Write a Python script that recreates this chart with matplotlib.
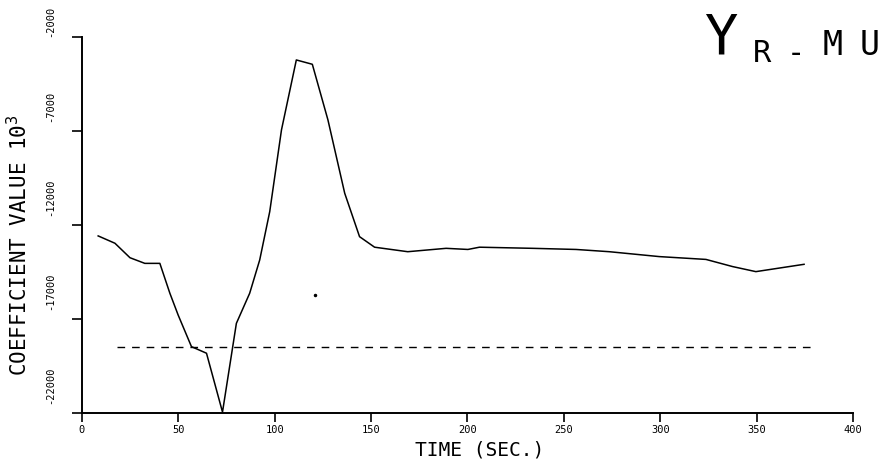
import matplotlib
matplotlib.use("Agg")
import matplotlib.pyplot as plt
from matplotlib.transforms import ScaledTranslation

# Zeitachse (Sekunden) und Koeffizientenverlauf Y_R-MU
zeit = [8.4, 17.1, 24.9, 32.6, 40.4, 45.6, 49.9, 56.8, 64.6, 72.9, 80.1, 87.0,
        92.2, 97.4, 103.5, 111.2, 119.5, 127.6, 136.3, 144.0, 151.8, 169.0,
        188.9, 200.2, 206.2, 233.8, 256.3, 273.6, 299.5, 323.7, 337.5, 349.6, 374.6]
koeffizient = [-12580, -12970, -13740, -14040, -14040, -15630, -16790, -18470,
               -18820, -21950, -17230, -15630, -13860, -11290, -6940, -3220,
               -3450, -6410, -10310, -12620, -13180, -13420, -13240, -13300,
               -13180, -13240, -13300, -13420, -13680, -13830, -14210, -14480, -14090]

# gestrichelte Referenzlinie
ref_zeit = [18, 379]
ref_wert = [-18500, -18500]

# einzelner Punkt im Plot
punkt_zeit = [120.7]
punkt_wert = [-15720]

x_ticks = [0, 50, 100, 150, 200, 250, 300, 350, 400]
y_ticks = [-22000, -17000, -12000, -7000, -2000]

schrift = "DejaVu Sans Mono"
plt.rcParams['font.family'] = schrift

fig = plt.figure(figsize=(8.92, 4.61), dpi=100)
ax = fig.add_axes([0.0919, 0.1041, 0.8644, 0.8156])

ax.plot(zeit, koeffizient, color='black', linewidth=1.1)
ax.plot(ref_zeit, ref_wert, color='black', linewidth=1.0, linestyle=(0, (5.5, 5)))
ax.plot(punkt_zeit, punkt_wert, 'o', color='black', markersize=1.5)

ax.set_xlim(0, 400)
ax.set_ylim(-22000, -2000)

for s in ['top', 'right']:
    ax.spines[s].set_visible(False)
for s in ['left', 'bottom']:
    ax.spines[s].set_linewidth(1.4)

ax.set_xticks(x_ticks)
ax.set_xticklabels([str(t) for t in x_ticks], fontsize=7.5)
ax.set_yticks(y_ticks)
ax.set_yticklabels([str(t) for t in y_ticks], fontsize=7.5, rotation=90, va='bottom')
ax.tick_params(axis='x', direction='out', length=6.5, width=1.2, pad=2)
ax.tick_params(axis='y', direction='out', length=7, width=1.2, pad=12)

# Y-Beschriftungen etwas oberhalb der Striche (oberste bleibt am Strich)
for wert, lbl in zip(y_ticks, ax.get_yticklabels()):
    versatz = 0.0 if wert == max(y_ticks) else 0.09
    lbl.set_transform(lbl.get_transform() + ScaledTranslation(0, versatz, fig.dpi_scale_trans))

ax.set_xlabel("TIME (SEC.)", fontsize=14)
ax.xaxis.set_label_coords(0.516, -0.072)
ax.set_ylabel("COEFFICIENT VALUE 10$^3$", fontsize=15)
ax.yaxis.set_label_coords(-0.066, 0.447)

# Titel Y_R-MU oben rechts
fig.text(721 / 892, 1 - 53 / 461, "Y", fontsize=40, ha='center', va='baseline')
fig.text(762 / 892, 1 - 62 / 461, "R", fontsize=22, ha='center', va='baseline')
fig.text(796 / 892, 1 - 62 / 461, "-", fontsize=22, ha='center', va='baseline')
fig.text(833 / 892, 1 - 55 / 461, "M", fontsize=24, ha='center', va='baseline')
fig.text(870 / 892, 1 - 55 / 461, "U", fontsize=24, ha='center', va='baseline')

plt.savefig("out.png", dpi=100, facecolor='white')
